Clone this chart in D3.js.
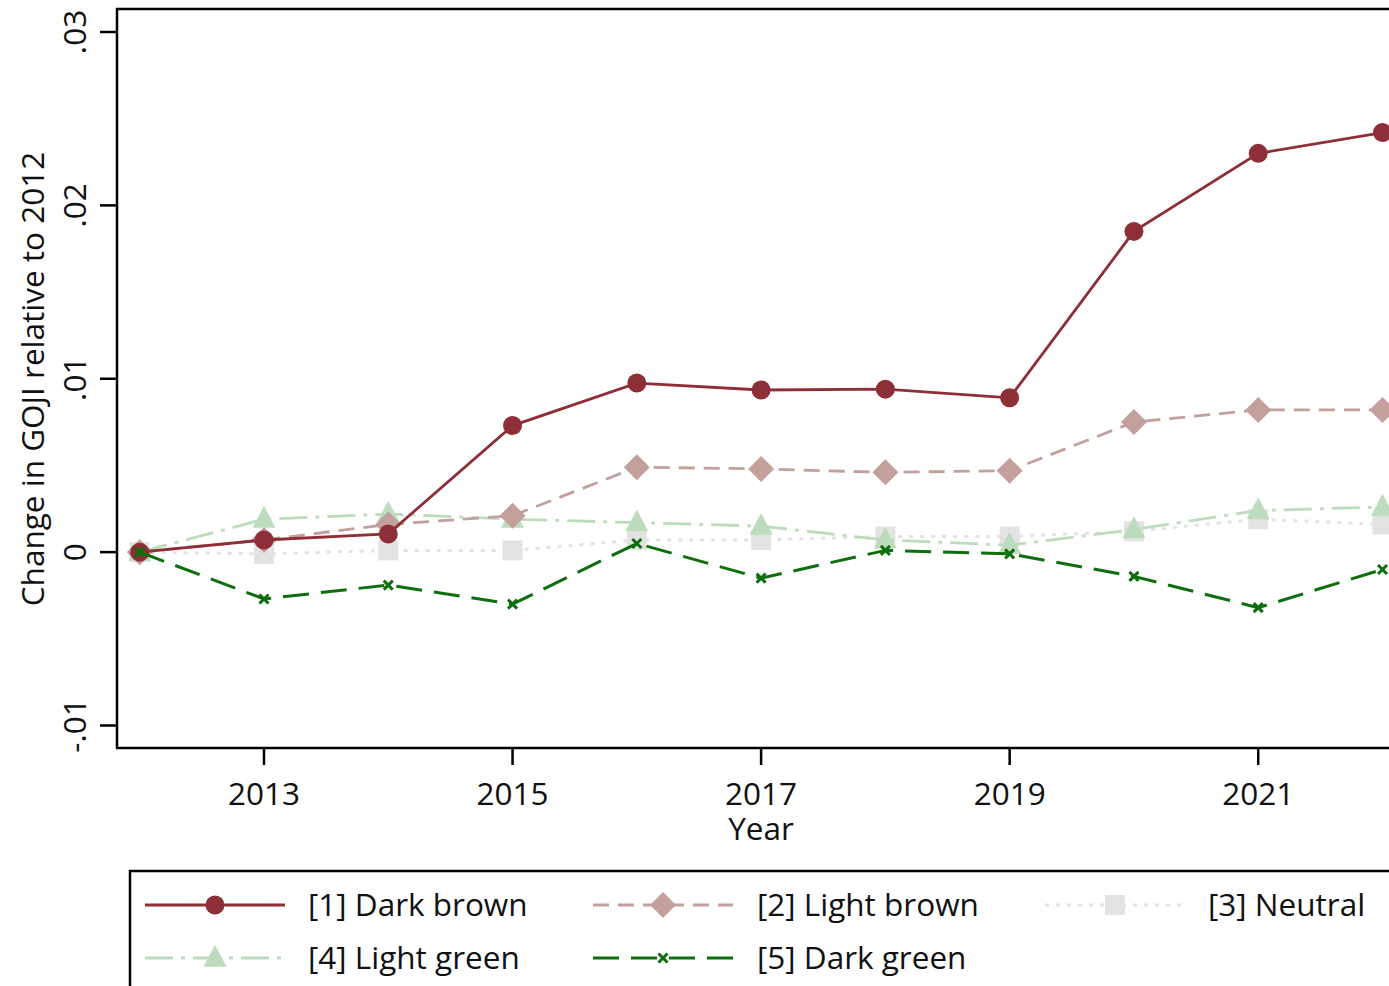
<!DOCTYPE html>
<html>
<head>
<meta charset="utf-8">
<script src="https://cdn.jsdelivr.net/npm/d3@7"></script>
<style>
  body { margin: 0; background: #fff; }
  text { font-family: "Open Sans", "Noto Sans", sans-serif; fill: #111; }
</style>
</head>
<body>
<svg id="chart" width="1389" height="986"></svg>
<script>
// data
var years = [2012, 2013, 2014, 2015, 2016, 2017, 2018, 2019, 2020, 2021, 2022]
var xTicks = [2013, 2015, 2017, 2019, 2021]
var yTicks = [-0.01, 0, 0.01, 0.02, 0.03]
var yTickLabels = ["-.01", "0", ".01", ".02", ".03"]

var darkBrown  = [0, 0.0007, 0.00105, 0.0073, 0.00975, 0.00935, 0.0094, 0.0089, 0.0185, 0.0230, 0.0242]
var lightBrown = [0, 0.0007, 0.0016, 0.0021, 0.0049, 0.0048, 0.0046, 0.0047, 0.0075, 0.0082, 0.0082]
var neutral    = [0, -0.0001, 0.0001, 0.0001, 0.0007, 0.0007, 0.0009, 0.0009, 0.0012, 0.0019, 0.0016]
var lightGreen = [0, 0.0019, 0.0022, 0.0019, 0.0017, 0.0015, 0.0007, 0.0004, 0.0013, 0.0024, 0.0026]
var darkGreen  = [0, -0.0027, -0.0019, -0.0030, 0.0005, -0.0015, 0.0001, -0.0001, -0.0014, -0.0032, -0.0010]

var seriesNames = ["[1] Dark brown", "[2] Light brown", "[3] Neutral", "[4] Light green", "[5] Dark green"]

var series = [
    {name: seriesNames[0], values: darkBrown,  color: "#8e2f38", dash: null,          width: 2.8, marker: "circle"},
    {name: seriesNames[1], values: lightBrown, color: "#c3a09c", dash: "16,9",        width: 2.8, marker: "diamond"},
    {name: seriesNames[2], values: neutral,    color: "#e3e3e3", dash: "4,7",         width: 3,   marker: "square"},
    {name: seriesNames[3], values: lightGreen, color: "#bcdcbd", dash: "28,8,4,8",    width: 2.8, marker: "triangle"},
    {name: seriesNames[4], values: darkGreen,  color: "#0d6e0d", dash: "26,12",       width: 3,   marker: "cross"}
]

var svg = d3.select("#chart")
var fontSize = "31.5px"

var plot = {left: 117, top: 9, right: 1408, bottom: 748}

var xScale = d3.scaleLinear().domain([2012, 2022]).range([139.7, 1382.5])
var yScale = d3.scaleLinear().domain([-0.01, 0.03]).range([725.5, 32])

// markers
function drawMarker(g, type, cx, cy, color) {
    if (type == "circle") {
        g.append("circle").attr("cx", cx).attr("cy", cy).attr("r", 9.5).style("fill", color)
    } else if (type == "diamond") {
        var s = 13
        g.append("path").attr("d", d3.line()([[cx, cy - s], [cx + s, cy], [cx, cy + s], [cx - s, cy]]) + "Z").style("fill", color)
    } else if (type == "square") {
        var s = 10
        g.append("rect").attr("x", cx - s).attr("y", cy - s).attr("width", 2 * s).attr("height", 2 * s).style("fill", color)
    } else if (type == "triangle") {
        var s = 11.5
        g.append("path").attr("d", d3.line()([[cx, cy - s * 1.15], [cx + s, cy + s * 0.75], [cx - s, cy + s * 0.75]]) + "Z").style("fill", color)
    } else if (type == "cross") {
        var s = 4.5
        g.append("path")
            .attr("d", "M" + (cx - s) + "," + (cy - s) + "L" + (cx + s) + "," + (cy + s) + "M" + (cx - s) + "," + (cy + s) + "L" + (cx + s) + "," + (cy - s))
            .style("stroke", color).style("stroke-width", 3).style("fill", "none")
    }
}

// lines + markers, dark brown on top of the light ones
var lines = svg.append("g").attr("class", "lines")
var line = d3.line().x(function(d, i) { return xScale(years[i]) }).y(function(d) { return yScale(d) })

var drawOrder = [2, 3, 1, 0, 4]
for (var k = 0; k < drawOrder.length; k++) {
    var s = series[drawOrder[k]]
    var g = lines.append("g")
    g.append("path")
        .attr("d", line(s.values))
        .style("fill", "none")
        .style("stroke", s.color)
        .style("stroke-width", s.width)
        .style("stroke-dasharray", s.dash)
    for (var i = 0; i < s.values.length; i++) {
        drawMarker(g, s.marker, xScale(years[i]), yScale(s.values[i]), s.color)
    }
}

// frame
svg.append("rect")
    .attr("x", plot.left).attr("y", plot.top)
    .attr("width", plot.right - plot.left).attr("height", plot.bottom - plot.top)
    .style("fill", "none").style("stroke", "#000").style("stroke-width", 2.5)

// y axis
var yAxis = svg.append("g")
yAxis.selectAll("line").data(yTicks).enter().append("line")
    .attr("x1", plot.left - 17).attr("x2", plot.left)
    .attr("y1", function(d) { return yScale(d) }).attr("y2", function(d) { return yScale(d) })
    .style("stroke", "#000").style("stroke-width", 2.5)
yAxis.selectAll("text").data(yTicks).enter().append("text")
    .attr("transform", function(d) { return "translate(86," + yScale(d) + ") rotate(-90)" })
    .attr("text-anchor", "middle")
    .style("font-size", fontSize)
    .text(function(d, i) { return yTickLabels[i] })

svg.append("text")
    .attr("transform", "translate(44,379) rotate(-90)")
    .attr("text-anchor", "middle")
    .style("font-size", fontSize)
    .text("Change in GOJI relative to 2012")

// x axis
var xAxis = svg.append("g")
xAxis.selectAll("line").data(xTicks).enter().append("line")
    .attr("x1", function(d) { return xScale(d) }).attr("x2", function(d) { return xScale(d) })
    .attr("y1", plot.bottom).attr("y2", plot.bottom + 17)
    .style("stroke", "#000").style("stroke-width", 2.5)
xAxis.selectAll("text").data(xTicks).enter().append("text")
    .attr("x", function(d) { return xScale(d) }).attr("y", 805)
    .attr("text-anchor", "middle")
    .style("font-size", fontSize)
    .text(function(d) { return d })

svg.append("text")
    .attr("x", xScale(2017)).attr("y", 840)
    .attr("text-anchor", "middle")
    .style("font-size", fontSize)
    .text("Year")

// legend
var legend = svg.append("g")
legend.append("rect")
    .attr("x", 130).attr("y", 871).attr("width", 1300).attr("height", 200)
    .style("fill", "#fff").style("stroke", "#000").style("stroke-width", 2.5)

var legendPos = [
    {x: 145, y: 905, tx: 308},
    {x: 593, y: 905, tx: 757},
    {x: 1045, y: 905, tx: 1208},
    {x: 145, y: 958, tx: 308},
    {x: 593, y: 958, tx: 757}
]
for (var i = 0; i < series.length; i++) {
    var s = series[i], p = legendPos[i]
    var lg = legend.append("g")
    lg.append("line")
        .attr("x1", p.x).attr("x2", p.x + 140).attr("y1", p.y).attr("y2", p.y)
        .style("stroke", s.color).style("stroke-width", s.width)
        .style("stroke-dasharray", s.dash)
    drawMarker(lg, s.marker, p.x + 70, p.y, s.color)
    lg.append("text")
        .attr("x", p.tx).attr("y", p.y + 11)
        .style("font-size", fontSize)
        .text(s.name)
}
</script>
</body>
</html>
